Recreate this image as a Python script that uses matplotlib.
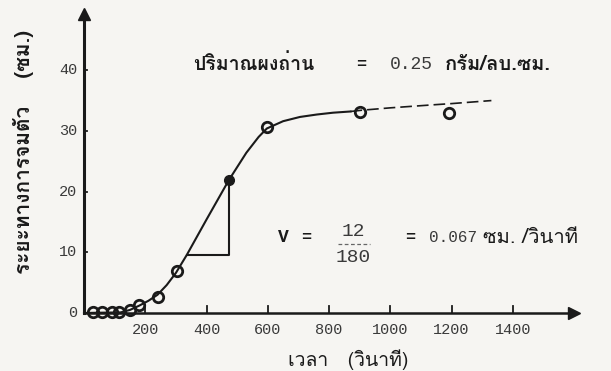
import numpy as np
from matplotlib import pyplot as plt
from matplotlib import font_manager
from matplotlib.ft2font import FT2Font

# fitted curve (time s, settling distance cm), solid part then dashed tail
curve_x = [0, 120, 150, 180, 210, 240, 270, 300, 336, 400, 473, 530, 570, 597, 650, 705, 760, 813, 870]
curve_y = [0, 0.1, 0.5, 1.2, 2.0, 3.0, 4.6, 6.6, 9.6, 15.4, 21.9, 26.4, 29.0, 30.4, 31.6, 32.3, 32.7, 33.0, 33.2]
tail_x = [870, 905, 1000, 1140, 1200, 1330]
tail_y = [33.2, 33.4, 33.8, 34.3, 34.5, 35.0]

obs_x = [30, 60, 90, 115, 150, 180, 243, 303, 597, 901, 1190]
obs_y = [0.2, 0.2, 0.2, 0.2, 0.5, 1.3, 2.7, 6.9, 30.6, 33.1, 33.0]
tan_x, tan_y = 473, 21.9

tri_x = [336, 473, 473]
tri_y = [9.6, 9.6, 21.9]

xticks = [200, 400, 600, 800, 1000, 1200, 1400]
yticks = [0, 10, 20, 30, 40]


def thai_font():
    for f in font_manager.fontManager.ttflist:
        try:
            if 0x0E01 in FT2Font(f.fname).get_charmap():
                return f.name
        except Exception:
            pass
    return 'DejaVu Sans'


th = thai_font()
fam = [th, 'DejaVu Sans']
mono = 'Liberation Mono'
ink = '#1a1a1a'
grey = '#3a3a3a'
bg = '#f6f5f2'

fig = plt.figure(figsize=(6.11, 3.71), dpi=100)
fig.patch.set_facecolor(bg)
ax = fig.add_axes([0, 0, 1, 1])
ax.set_facecolor(bg)
ax.set_xlim(-274.2, 1720.5)
ax.set_ylim(-9.56, 51.57)

# axes with arrows
ax.plot([0, 1585], [0, 0], color=ink, lw=1.8)
ax.plot([0, 0], [0, 48.5], color=ink, lw=2.2)
ax.plot([1600], [0], marker='>', color=ink, ms=9)
ax.plot([0], [49.3], marker='^', color=ink, ms=9)
for t in xticks:
    ax.plot([t, t], [0, 1.1], color=ink, lw=1.3)
    ax.text(t, -2.8, str(t), family=mono, fontsize=11, color=grey,
            ha='center', va='center')
for t in yticks:
    ax.plot([0, 10], [t, t], color=ink, lw=1.3)
    ax.text(-22, t, str(t), family=mono, fontsize=11, color=grey,
            ha='right', va='center')

ax.plot(curve_x, curve_y, color=ink, lw=1.5)
ax.plot(tail_x, tail_y, color=ink, lw=1.2, ls=(0, (7, 3)))

# slope triangle
ax.plot(tri_x, tri_y, color=ink, lw=1.5)

ax.plot(obs_x, obs_y, 'o', mfc='none', mec=ink, mew=2, ms=7.5)
ax.plot([tan_x], [tan_y], 'o', color=ink, ms=7)

# top note
ax.text(356, 41.0, 'ปริมาณผงถ่าน', family=fam, fontsize=14, color=ink,
        ha='left', va='center', fontweight='bold')
ax.text(904, 41.0, '=', family=mono, fontsize=12, color=ink,
        ha='center', va='center', fontweight='bold')
ax.text(999, 41.0, '0.25', family=mono, fontsize=13, color=grey,
        ha='left', va='center')
ax.text(1179, 41.0, 'กรัม/ลบ.ซม.', family=fam, fontsize=14.5, color=ink,
        ha='left', va='center', fontweight='bold')

# slope note
ax.text(633, 12.4, 'V', family=mono, fontsize=13, color=ink,
        ha='left', va='center', fontweight='bold')
ax.text(725, 12.4, '=', family=mono, fontsize=12, color=ink,
        ha='center', va='center', fontweight='bold')
ax.text(880, 13.5, '12', family=mono, fontsize=14, color=grey,
        ha='center', va='center')
ax.plot([829, 934], [11.4, 11.4], color='#666666', lw=0.9, ls=(0, (3, 2)))
ax.text(880, 9.2, '180', family=mono, fontsize=14, color=grey,
        ha='center', va='center')
ax.text(1064, 12.4, '=', family=mono, fontsize=12, color=ink,
        ha='center', va='center', fontweight='bold')
ax.text(1125, 12.4, '0.067', family=mono, fontsize=11.5, color=grey,
        ha='left', va='center')
ax.text(1302, 12.4, 'ซม. /วินาที', family=fam, fontsize=14.5, color=ink,
        ha='left', va='center')

ax.text(862, -7.7, 'เวลา   (วินาที)', family=fam, fontsize=14, color=ink,
        ha='center', va='center')
ax.text(-199, 26.5, 'ระยะทางการจมตัว    (ซม.)', family=fam, fontsize=15,
        color=ink, ha='center', va='center', rotation=90, fontweight='bold')

ax.axis('off')
fig.savefig('out.png', dpi=100, facecolor=fig.get_facecolor())
